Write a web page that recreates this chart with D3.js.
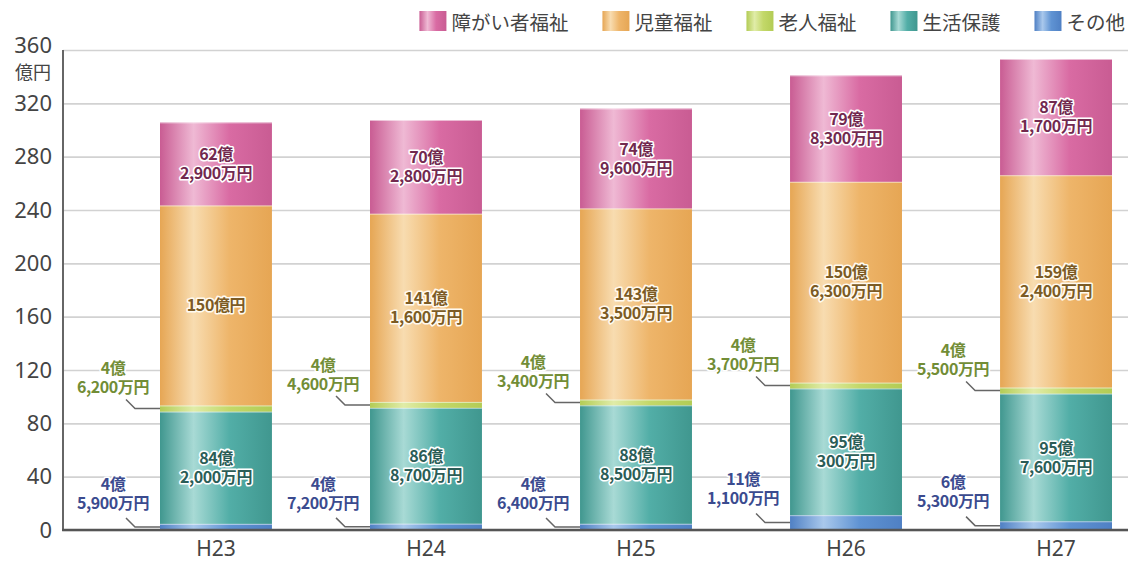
<!DOCTYPE html>
<html><head><meta charset="utf-8">
<script src="https://cdn.jsdelivr.net/npm/d3@7"></script>
<style>body{margin:0;background:#fff} svg{display:block}</style>
</head><body><svg id="c" width="1135" height="563"></svg>
<script>
// ---- data (億円) ----
const categories = ["H23", "H24", "H25", "H26", "H27"];
const other    = [4.59, 4.72, 4.64, 11.11, 6.53];      // その他
const welfare  = [84.20, 86.87, 88.85, 95.03, 95.76];  // 生活保護
const elderly  = [4.62, 4.46, 4.34, 4.37, 4.55];       // 老人福祉
const child    = [150.00, 141.16, 143.35, 150.63, 159.24]; // 児童福祉
const disabled = [62.29, 70.28, 74.96, 79.83, 87.17];  // 障がい者福祉
const seriesKeys = ["その他", "生活保護", "老人福祉", "児童福祉", "障がい者福祉"];
const legendOrder = ["障がい者福祉", "児童福祉", "老人福祉", "生活保護", "その他"];
const yTicks = [0, 40, 80, 120, 160, 200, 240, 280, 320, 360];
const yUnit = "億円";

const seriesData = {"その他": other, "生活保護": welfare, "老人福祉": elderly, "児童福祉": child, "障がい者福祉": disabled};
const rows = categories.map((c, i) => {
  const r = {cat: c};
  seriesKeys.forEach(k => r[k] = seriesData[k][i]);
  return r;
});

const style = {
  "その他":     {dark: "#4f80c4", base: "#5f93d3", light: "#a9c8ec", text: "#3b4b8f", halo: "#ffffff"},
  "生活保護":   {dark: "#40978f", base: "#52aea7", light: "#a8dad5", text: "#2b5d57", halo: "#ffffff"},
  "老人福祉":   {dark: "#b3cc55", base: "#c3d869", light: "#e0eca8", text: "#728d36", halo: "#ffffff"},
  "児童福祉":   {dark: "#e6a654", base: "#eeb56a", light: "#f8dcb0", text: "#7c5b24", halo: "#fffaf0"},
  "障がい者福祉": {dark: "#c95c93", base: "#d96ba3", light: "#efb9d4", text: "#72294f", halo: "#ffffff"}
};

const svg = d3.select("#c");
const defs = svg.append("defs");
seriesKeys.forEach((k, i) => {
  const g = defs.append("linearGradient").attr("id", "g" + i).attr("x1", "0%").attr("x2", "100%");
  const s = style[k];
  [[0, s.dark], [0.3, s.light], [0.62, s.base], [1, s.dark]].forEach(([o, c]) =>
    g.append("stop").attr("offset", o).attr("stop-color", c));
});

const x = d3.scaleBand().domain(categories).range([160, 1112]).paddingInner(0.467).paddingOuter(0);
const y = d3.scaleLinear().domain([0, 360]).range([530, 50]);
const axisX = 63, gridRight = 1128;

// grid + y axis
const ya = svg.append("g").attr("transform", `translate(${axisX},0)`)
  .call(d3.axisLeft(y).tickValues(yTicks).tickSize(-(gridRight - axisX)).tickPadding(10).tickFormat(d3.format("d")));
ya.select(".domain").remove();
ya.selectAll(".tick line").attr("stroke", "#d2d2d2").attr("stroke-width", 1.6);
ya.selectAll(".tick text").attr("fill", "#444").style("font-family", "'Noto Sans', sans-serif").style("font-size", "22px").attr("x", -11);
ya.selectAll(".tick").filter(d => d === 360).select("text").attr("dy", "0.1em");
svg.append("text").attr("x", 51).attr("y", 79).attr("text-anchor", "end")
  .attr("fill", "#444").style("font-family", "'Noto Sans CJK JP', sans-serif").style("font-size", "18px").text(yUnit);

// bars
const stacked = d3.stack().keys(seriesKeys)(rows);
const bars = svg.append("g");
stacked.forEach((layer, li) => {
  bars.selectAll(null).data(layer).enter().append("rect")
    .attr("x", d => x(d.data.cat))
    .attr("width", x.bandwidth())
    .attr("y", d => y(d[1]))
    .attr("height", d => y(d[0]) - y(d[1]))
    .attr("fill", `url(#g${li})`);
  bars.selectAll(null).data(layer).enter().append("line")
    .attr("x1", d => x(d.data.cat)).attr("x2", d => x(d.data.cat) + x.bandwidth())
    .attr("y1", d => y(d[1]) + 0.5).attr("y2", d => y(d[1]) + 0.5)
    .attr("stroke", "#ffffff").attr("stroke-opacity", 0.55).attr("stroke-width", 1);
});

// axes lines
svg.append("line").attr("x1", axisX).attr("x2", axisX).attr("y1", y(360)).attr("y2", y(0) + 1)
  .attr("stroke", "#666").attr("stroke-width", 2);
svg.append("line").attr("x1", axisX - 1).attr("x2", gridRight).attr("y1", y(0)).attr("y2", y(0))
  .attr("stroke", "#555").attr("stroke-width", 2.5);

// x axis labels
const xa = svg.append("g").attr("transform", `translate(0,${y(0)})`)
  .call(d3.axisBottom(x).tickSize(0).tickPadding(11));
xa.select(".domain").remove();
xa.selectAll(".tick text").attr("fill", "#444").style("font-family", "'Noto Sans', sans-serif").style("font-size", "21px");

// value labels
function fmt(v) {
  const m = Math.round(v * 10000);
  const oku = Math.floor(m / 10000), man = m % 10000;
  return man === 0 ? [oku + "億円"] : [oku + "億", d3.format(",")(man) + "万円"];
}
const labelFont = "'Noto Sans CJK JP', sans-serif";
function addText(g, lines, cx, ys, s) {
  const t = g.append("text").attr("text-anchor", "middle")
    .style("font-family", labelFont).style("font-size", "16px").style("font-weight", 700)
    .style("letter-spacing", "-0.4px")
    .attr("fill", s.text).attr("stroke", s.halo).attr("stroke-width", 3.2)
    .attr("stroke-linejoin", "round").style("paint-order", "stroke");
  lines.forEach((line, i) => {
    t.append("tspan").attr("x", cx).attr("y", ys[i]).attr("dy", "0.36em").text(line);
  });
}
const lab = svg.append("g");
stacked.forEach(layer => {
  const k = layer.key, s = style[k];
  layer.forEach(d => {
    const lines = fmt(d.data[k]);
    const cy = (y(d[0]) + y(d[1])) / 2;
    const bx = x(d.data.cat);
    if (k === "その他" || k === "老人福祉") {
      const lx = bx - 47;
      const ys = k === "老人福祉" ? [cy - 40, cy - 21] : [cy - 43, cy - 24];
      lab.append("path").attr("d", `M${lx + 13},${cy - 9}L${lx + 22},${cy}L${bx},${cy}`)
        .attr("fill", "none").attr("stroke", "#666").attr("stroke-width", 1.5);
      addText(lab, lines, lx, ys, s);
    } else {
      const cx = bx + x.bandwidth() / 2;
      const ys = lines.length === 1 ? [cy] : [cy - 9.5, cy + 9.5];
      addText(lab, lines, cx, ys, s);
    }
  });
});

// legend
const lg = svg.append("g");
let lx = 1125;
const items = legendOrder.slice().reverse();
items.forEach(k => {
  const i = seriesKeys.indexOf(k);
  const t = lg.append("text").attr("y", 21).attr("dominant-baseline", "central")
    .attr("fill", "#444").style("font-family", "'Noto Sans CJK JP', sans-serif").style("font-size", "19.5px").text(k);
  const w = t.node().getComputedTextLength();
  t.attr("x", lx - w);
  lg.append("rect").attr("x", lx - w - 32).attr("y", 11).attr("width", 27).attr("height", 20)
    .attr("fill", `url(#g${i})`);
  lx = lx - w - 32 - 34;
});
</script>
</body></html>
